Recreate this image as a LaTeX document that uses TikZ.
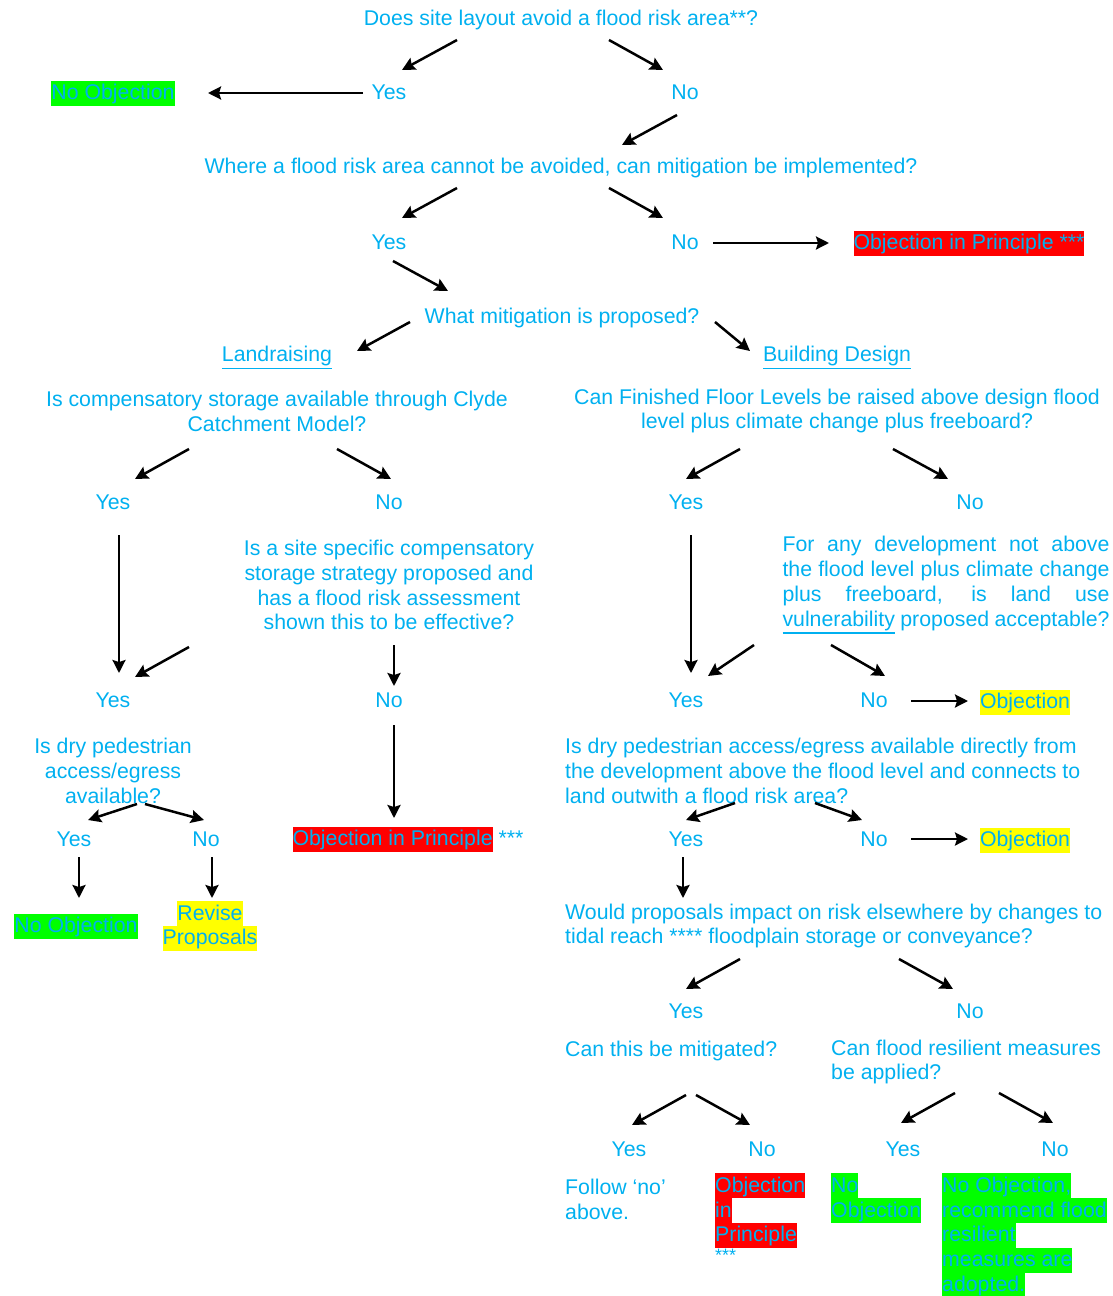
\documentclass[tikz,border=0pt]{standalone}
\usepackage{fontspec}
\setmainfont{Liberation Sans}
\usetikzlibrary{arrows.meta,calc}

\definecolor{qblue}{RGB}{0,176,240}
\definecolor{hlgreen}{RGB}{0,255,0}
\definecolor{hlred}{RGB}{255,0,0}
\definecolor{hlyellow}{RGB}{255,255,0}

% word-style highlight and underline
\newcommand\hlt[2]{{\setlength{\fboxsep}{0pt}\colorbox{#1}{\rule[-6pt]{0pt}{25pt}#2}}}
\newcommand\undl[1]{\vtop{\hbox{#1}\kern2pt\hrule height 1.3pt}}
\setlength{\lineskiplimit}{-50pt}

\tikzset{
  txt/.style={text=qblue, inner sep=0pt, font=\fontsize{21.3}{24.8}\selectfont},
  lbl/.style={txt, text height=18pt, text depth=3pt},
  para/.style={txt, align=center},
  arr/.style={-{Stealth[length=13pt,width=13pt,inset=2pt]}, line width=2.5pt},
}

\begin{document}
\begin{tikzpicture}[x=1pt, y=-1pt]
                \useasboundingbox (0,0) rectangle (1113,1296);

                % top part
                \node[lbl] (q1) at (561,18) {Does site layout avoid a flood risk area**?};
                \node[lbl] (y1) at (389,92) {Yes};
                \node[lbl] (n1) at (685,92) {No};
                \node[lbl] (ok1) at (113,92) {\hlt{hlgreen}{No Objection}};
                \node[lbl] (q2) at (561,166) {Where a flood risk area cannot be avoided, can mitigation be implemented?};
                \node[lbl] (y2) at (389,242) {Yes};
                \node[lbl] (n2) at (685,242) {No};
                \node[lbl] (oip1) at (969,242) {\hlt{hlred}{Objection in Principle ***}};
                \node[lbl] (q3) at (562,316) {What mitigation is proposed?};
                \node[lbl] (land) at (277,354) {\undl{Landraising}};
                \node[lbl] (bdes) at (837,354) {\undl{Building Design}};

                \draw[arr] ($(q1)+(-104,22)$) -- ($(y1)+(13,-22)$);
                \draw[arr] ($(q1)+(48,22)$) -- ($(n1)+(-22,-22)$);
                \draw[arr] ($(y1)+(-26,1)$) -- ($(ok1)+(95,1)$);
                \draw[arr] ($(n1)+(-8,23)$) -- ($(q2)+(61,-21)$);
                \draw[arr] ($(q2)+(-104,22)$) -- ($(y2)+(13,-24)$);
                \draw[arr] ($(q2)+(48,22)$) -- ($(n2)+(-22,-24)$);
                \draw[arr] ($(n2)+(28,1)$) -- ($(oip1)+(-140,1)$);
                \draw[arr] ($(y2)+(4,19)$) -- ($(q3)+(-114,-25)$);
                \draw[arr] ($(q3)+(-152,6)$) -- ($(land)+(80,-3)$);
                \draw[arr] ($(q3)+(153,6)$) -- ($(bdes)+(-87,-3)$);

                % landraising
                \node[para] (q4) at (277,411) {Is compensatory storage available through Clyde\\Catchment Model?};
                \node[lbl] (y4) at (113,502) {Yes};
                \node[lbl] (n4) at (389,502) {No};
                \node[para] (q5) at (389,585) {Is a site specific compensatory\\storage strategy proposed and\\has a flood risk assessment\\shown this to be effective?};
                \node[lbl] (y6) at (113,700) {Yes};
                \node[lbl] (n6) at (389,700) {No};
                \node[lbl] (oip2) at (408,838) {\hlt{hlred}{Objection in Principle} ***};
                \node[para] (q7) at (113,771) {Is dry pedestrian\\access/egress\\available?};
                \node[lbl] (y7) at (74,839) {Yes};
                \node[lbl] (n7) at (206,839) {No};
                \node[lbl] (ok2) at (76,925) {\hlt{hlgreen}{No Objection}};
                \node[para] (rev) at (210,926) {\hlt{hlyellow}{Revise}\\\hlt{hlyellow}{Proposals}};

                \draw[arr] ($(q4)+(-88,38)$) -- ($(y4)+(22,-23)$);
                \draw[arr] ($(q4)+(60,38)$) -- ($(n4)+(2,-23)$);
                \draw[arr] ($(y4)+(6,33)$) -- ($(y6)+(6,-27)$);
                \draw[arr] ($(q5)+(-200,62)$) -- ($(y6)+(22,-23)$);
                \draw[arr] ($(q5)+(5,60)$) -- ($(n6)+(5,-14)$);
                \draw[arr] ($(n6)+(5,25)$) -- ($(oip2)+(-14,-20)$);
                \draw[arr] ($(q7)+(24,33)$) -- ($(y7)+(14,-19)$);
                \draw[arr] ($(q7)+(32,33)$) -- ($(n7)+(-2,-19)$);
                \draw[arr] ($(y7)+(5,18)$) -- ($(ok2)+(3,-27)$);
                \draw[arr] ($(n7)+(6,18)$) -- ($(rev)+(2,-28)$);

                % building design
                \node[para] (q8) at (837,411) {Can Finished Floor Levels be raised above design flood\\level plus climate change plus freeboard?};
                \node[lbl] (y8) at (686,502) {Yes};
                \node[lbl] (n8) at (970,502) {No};
                \node[txt, text width=327pt, align=justify] (q9) at (946,585) {\tolerance=10000\hbadness=10000 For any development not above\linebreak the flood level plus climate change\linebreak plus freeboard, is land use\linebreak \undl{vulnerability} proposed acceptable?};
                \node[lbl] (y10) at (686,700) {Yes};
                \node[lbl] (n10) at (874,700) {No};
                \node[lbl] (obj1) at (1025,701) {\hlt{hlyellow}{Objection}};
                \node[txt, align=left, anchor=west] (q11) at (565,771) {Is dry pedestrian access/egress available directly from\\the development above the flood level and connects to\\land outwith a flood risk area?};
                \node[lbl] (y12) at (686,839) {Yes};
                \node[lbl] (n12) at (874,839) {No};
                \node[lbl] (obj2) at (1025,839) {\hlt{hlyellow}{Objection}};
                \node[txt, align=left, anchor=west] (q13) at (565,926) {Would proposals impact on risk elsewhere by changes to\\tidal reach **** floodplain storage or conveyance?};
                \node[lbl] (y13) at (686,1011) {Yes};
                \node[lbl] (n13) at (970,1011) {No};
                \node[lbl, anchor=west] (q14) at (565,1049) {Can this be mitigated?};
                \node[txt, align=left, anchor=west] (q15) at (831,1062) {Can flood resilient measures\\be applied?};
                \node[lbl] (y14) at (629,1149) {Yes};
                \node[lbl] (n14) at (762,1149) {No};
                \node[lbl] (y15) at (903,1149) {Yes};
                \node[lbl] (n15) at (1055,1149) {No};
                \node[txt, align=left, anchor=west] (fol) at (565,1199) {Follow ‘no’\\above.};
                \node[txt, align=left, anchor=north west] (oip3) at (715,1173) {\hlt{hlred}{Objection}\\\hlt{hlred}{in}\\\hlt{hlred}{Principle}\\[-5pt]{\fontsize{18}{18}\selectfont ***}};
                \node[txt, align=left, anchor=north west] (ok3) at (831,1173) {\hlt{hlgreen}{No}\\\hlt{hlgreen}{Objection}};
                \node[txt, align=left, anchor=north west] (ok4) at (942,1173) {\hlt{hlgreen}{No Objection,}\\\hlt{hlgreen}{recommend flood}\\\hlt{hlgreen}{resilient}\\\hlt{hlgreen}{measures are}\\\hlt{hlgreen}{adopted.}};

                \draw[arr] ($(q8)+(-97,38)$) -- ($(y8)+(0,-23)$);
                \draw[arr] ($(q8)+(56,38)$) -- ($(n8)+(-22,-23)$);
                \draw[arr] ($(y8)+(5,33)$) -- ($(y10)+(5,-27)$);
                \draw[arr] ($(q9)+(-192,60)$) -- ($(y10)+(22,-24)$);
                \draw[arr] ($(q9)+(-115,60)$) -- ($(n10)+(11,-24)$);
                \draw[arr] ($(n10)+(37,1)$) -- ($(obj1)+(-57,0)$);
                \draw[arr] ($(q11.west)+(170,32)$) -- ($(y12)+(0,-19)$);
                \draw[arr] ($(q11.west)+(250,32)$) -- ($(n12)+(-12,-19)$);
                \draw[arr] ($(n12)+(37,0)$) -- ($(obj2)+(-57,0)$);
                \draw[arr] ($(y12)+(-3,18)$) -- ($(q13.west)+(118,-28)$);
                \draw[arr] ($(q13.west)+(175,33)$) -- ($(y13)+(0,-22)$);
                \draw[arr] ($(q13.west)+(334,33)$) -- ($(n13)+(-17,-22)$);
                \draw[arr] ($(q14.west)+(121,46)$) -- ($(y14)+(3,-24)$);
                \draw[arr] ($(q14.west)+(131,46)$) -- ($(n14)+(-12,-24)$);
                \draw[arr] ($(q15.west)+(124,31)$) -- ($(y15)+(-2,-26)$);
                \draw[arr] ($(q15.west)+(168,31)$) -- ($(n15)+(-2,-26)$);
\end{tikzpicture}
\end{document}
